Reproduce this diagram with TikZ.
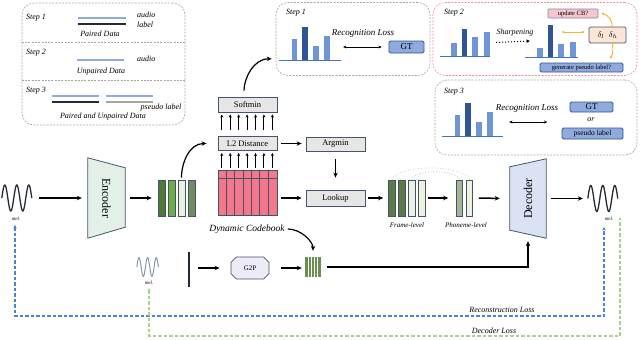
\documentclass[tikz,border=0pt]{standalone}
\usepackage{fontspec}
\setmainfont{Liberation Serif}
\usepackage{tikz}
\usetikzlibrary{arrows.meta,positioning,calc,shapes.misc}
\definecolor{edge}{HTML}{44546A}
\definecolor{boxgrey}{HTML}{E7E6E6}
\definecolor{cbpink}{HTML}{F5788A}
\definecolor{barmid}{HTML}{6F95D9}
\definecolor{bardark}{HTML}{2F5597}
\definecolor{axisblue}{HTML}{4472C4}
\definecolor{audioblue}{HTML}{8FAADC}
\definecolor{labelnavy}{HTML}{222A35}
\definecolor{gtblue}{HTML}{8FAADC}
\definecolor{encmint}{HTML}{E2F0E8}
\definecolor{decblue}{HTML}{DAE3F3}
\definecolor{gdark}{HTML}{4E7A34}
\definecolor{gmid}{HTML}{70AD47}
\definecolor{glight}{HTML}{E9F1E1}
\definecolor{ggrey}{HTML}{6E8C5C}
\definecolor{fdark}{HTML}{5B7B46}
\definecolor{flight}{HTML}{EBF2DE}
\definecolor{pgrey}{HTML}{A5B596}
\definecolor{pgreen}{HTML}{6B8E4E}
\definecolor{recblue}{HTML}{4F7FD6}
\definecolor{decgreen}{HTML}{A9D18E}
\definecolor{pinkline}{HTML}{F08C98}
\definecolor{orng}{HTML}{F4B42C}
\definecolor{peach}{HTML}{FBE5D6}
\definecolor{updpink}{HTML}{F7C6CE}
\definecolor{lavender}{HTML}{EDEBF6}
\definecolor{melgrey}{HTML}{8497B0}
\newcommand{\melwave}[3]{\draw[#3,shift={(#1)},scale=#2] plot[domain=0:30,samples=90,smooth] (\x,{-13*sin(\x*30)});}

\begin{document}
\begin{tikzpicture}[x=1pt,y=-1pt,
  box/.style={draw=edge,line width=0.8pt,fill=boxgrey,minimum width=59pt,inner sep=0pt,font=\fontsize{8.5}{9}\selectfont},
  gtbox/.style={draw=bardark,line width=0.8pt,fill=gtblue,rounded corners=1.5pt,inner sep=0pt},
  lab/.style={font=\fontsize{8}{9}\selectfont\itshape,inner sep=1pt},
  tiny/.style={font=\fontsize{5}{5}\selectfont\itshape,inner sep=0pt},
  frame/.style={draw=gray!70,dash pattern=on 2pt off 1.3pt,line width=0.6pt,rounded corners=12pt,inner sep=0pt},
  bar/.style={draw=edge,line width=0.6pt,minimum width=7pt,minimum height=36pt,inner sep=0pt},
  spot/.style={inner sep=0pt},
  loss/.style={line width=1.2pt,dash pattern=on 3.5pt off 2pt,<->,>={Stealth[length=3.5pt,width=3.5pt]}},
  >={Stealth[length=5pt,width=4.5pt]},
  flow/.style={->,line width=1.5pt},
  tick/.style={->,line width=1pt,>={Stealth[length=3.2pt,width=3pt]}}]
  \useasboundingbox (0,0) rectangle (640,340);

  % training data per step
  \node[frame,minimum width=163pt,minimum height=122pt] (data) at (103.5,64) {};
  \draw[frame,rounded corners=0pt] ($(data.north west)+(0,40)$) -- ($(data.north east)+(0,40)$)
    ($(data.north west)+(0,78)$) -- ($(data.north east)+(0,78)$);
  \node[lab,anchor=west] (st1) at (25,18) {Step 1};
  \node[lab,anchor=west] (st2) at (25,53) {Step 2};
  \node[lab,anchor=west] (st3) at (25,91) {Step 3};
  \draw[audioblue,line width=2.5pt] (78,18) -- (126,18);
  \draw[labelnavy,line width=2.5pt] (78,24) -- (126,24);
  \node[lab,anchor=west] (au1) at (136,15) {audio};
  \node[lab,anchor=west] (lb1) at (136,25) {label};
  \node[lab] (pd) at (100,34) {Paired Data};
  \draw[audioblue,line width=2.5pt] (77,60) -- (124,60);
  \node[lab,anchor=west] (au2) at (136,59) {audio};
  \node[lab] (ud) at (101,72) {Unpaired Data};
  \draw[audioblue,line width=2.5pt] (52,96) -- (99,96) (106,96) -- (153,96);
  \draw[labelnavy,line width=2.5pt] (52,102) -- (99,102);
  \draw[gray!70,line width=2.5pt] (106,102) -- (153,102);
  \node[lab] (psl) at (161,108) {pseudo label};
  \node[lab] (pud) at (103,117) {Paired and Unpaired Data};

  % step 1 panel
  \node[frame,minimum width=154pt,minimum height=73pt] (s1) at (353,39) {};
  \node[lab,anchor=west] (s1t) at (285,13) {Step 1};
  \node[spot,minimum width=62pt,minimum height=33pt] (c1) at (310,43.5) {};
  \foreach \x/\t/\c in {294.5/39/barmid,305/27/bardark,316/46/barmid,327/36/barmid}
    \fill[\c] (\x-2.8,\t) rectangle (\x+2.8,60);
  \draw[axisblue,line width=1pt] (c1.south west) -- (c1.south east);
  \node[gtbox,minimum width=35pt,minimum height=12pt,font=\fontsize{9}{9}\selectfont] (gt1) at (406.5,47) {GT};
  \node[lab,font=\fontsize{9}{9}\selectfont\itshape] (rl1) at (363,33) {Recognition Loss};
  \draw[tick,<->,shorten <=2pt,shorten >=7pt] (c1.east |- gt1.west) -- (gt1.west);

  % step 2 panel
  \node[frame,draw=pinkline,minimum width=204pt,minimum height=73pt] (s2) at (535,39) {};
  \node[lab,anchor=west] (s2t) at (443,13) {Step 2};
  \node[spot,minimum width=50pt,minimum height=27pt] (c2a) at (465,42.5) {};
  \foreach \x/\t/\c in {454/43/barmid,464.5/29/bardark,475/37/barmid,487/32/barmid}
    \fill[\c] (\x-2.8,\t) rectangle (\x+2.8,56);
  \draw[axisblue,line width=1pt] (c2a.south west) -- (c2a.south east);
  \node[spot,minimum width=53pt,minimum height=32pt] (c2b) at (551.5,41) {};
  \foreach \x/\t/\c in {540/48/barmid,550.5/25/bardark,561/44/barmid,573/42/barmid}
    \fill[\c] (\x-2.8,\t) rectangle (\x+2.8,57);
  \draw[axisblue,line width=1pt] (c2b.south west) -- (c2b.south east);
  \node[lab] (sh) at (515,33) {Sharpening};
  \draw[line width=1pt,dotted,->,>={Stealth[length=3.5pt,width=3.5pt]}] ($(c2a.east)+(6,0)$) -- ($(c2b.west)+(5,0)$);
  \node[draw=edge,line width=0.7pt,fill=peach,rounded corners=1.5pt,minimum width=37pt,minimum height=16pt,inner sep=0pt,font=\fontsize{8}{8}\selectfont] (dl) at (607.5,35) {$\delta_l$\;\;$\delta_h$};
  \node[draw=edge!70,line width=0.6pt,fill=updpink,rounded corners=1pt,minimum width=50pt,minimum height=9pt,inner sep=0pt,font=\fontsize{6.5}{6.5}\selectfont] (upd) at (573,13.5) {update CB?};
  \node[gtbox,minimum width=83pt,minimum height=9pt,font=\fontsize{6.5}{6.5}\selectfont] (gen) at (581.5,67.5) {generate pseudo label?};
  \draw[orng,line width=0.9pt,<->,>={Stealth[length=3pt,width=3pt]}] ($(dl.west)+(-27,-3)$) -- ($(dl.west)+(-4,-3)$);
  \draw[orng,line width=0.9pt,->,>={Stealth[length=3pt,width=3pt]}] ([xshift=5pt,yshift=-1pt]dl.north) to[out=90,in=-10] ([xshift=3pt]upd.east);
  \draw[orng,line width=0.9pt,->,>={Stealth[length=3pt,width=3pt]}] ([xshift=5pt,yshift=1pt]dl.south) to[out=-90,in=45] ([xshift=-14pt,yshift=4pt]gen.north east);

  % step 3 panel
  \node[frame,minimum width=202pt,minimum height=75pt] (s3) at (536,117.5) {};
  \node[lab,anchor=west] (s3t) at (443,92) {Step 3};
  \node[spot,minimum width=61pt,minimum height=33pt] (c3) at (472.5,119.5) {};
  \foreach \x/\t/\c in {457.5/115/barmid,468/103/bardark,479/122/barmid,490/112/barmid}
    \fill[\c] (\x-2.8,\t) rectangle (\x+2.8,136);
  \draw[axisblue,line width=1pt] (c3.south west) -- (c3.south east);
  \node[lab,font=\fontsize{9}{9}\selectfont\itshape] (rl3) at (527,108) {Recognition Loss};
  \draw[tick,<->] ($(c3.east)+(6,2.5)$) -- ++(38,0);
  \node[gtbox,minimum width=43pt,minimum height=10pt,font=\fontsize{9}{9}\selectfont] (gt3) at (591.5,107) {GT};
  \node[lab] (or) at (591,119.5) {or};
  \node[gtbox,minimum width=61pt,minimum height=11pt,font=\fontsize{7.5}{7.5}\selectfont] (ps3) at (592.5,133.5) {pseudo label};

  % encoder side
  \node[spot,minimum width=32pt,minimum height=28pt] (melin) at (18,198) {};
  \melwave{melin.west}{1}{labelnavy,line width=1.3pt}
  \node[tiny] (ml1) at (16,219) {mel.};
  \node[spot,minimum width=37pt,minimum height=80pt] (enc) at (106.5,198) {};
  \draw[draw=edge,fill=encmint,line width=0.8pt] (enc.north west) -- ([yshift=-10pt]enc.north east)
    -- ([yshift=11pt]enc.south east) -- (enc.south west) -- cycle;
  \node[rotate=-90,font=\fontsize{12}{12}\selectfont] (enct) at (enc) {Encoder};
  \foreach \i/\x/\c in {1/161.5/gdark,2/171.5/gmid,3/181.5/glight,4/191.5/ggrey}
    \node[bar,fill=\c] (eb\i) at (\x,198) {};
  \draw[flow,shorten <=5pt,shorten >=6pt] (melin.east) -- (enc.west);
  \draw[flow,shorten <=5pt,shorten >=6pt] (enc.east) -- (eb1.west);

  % codebook
  \node[box,minimum height=15pt] (smin) at (247.5,104.5) {Softmin};
  \node[box,minimum height=14pt] (l2) at (247.5,143.5) {L2 Distance};
  \node[box,minimum height=14pt] (amin) at (335.5,144) {Argmin};
  \node[box,minimum height=16pt] (look) at (335.5,198) {Lookup};
  \node[draw=edge,line width=0.8pt,fill=cbpink,minimum width=59pt,minimum height=45pt,inner sep=0pt] (cb) at (247.5,192.5) {};
  \foreach \k in {1,...,6}
    \draw[edge,line width=0.6pt] ($(cb.north west)+(\k*59/7,0)$) -- ($(cb.south west)+(\k*59/7,0)$);
  \draw[edge,line width=0.8pt] ($(cb.north west)+(0,9)$) -- ($(cb.north east)+(0,9)$);
  \foreach \k in {0,...,6} {
    \draw[tick] ($(cb.north west)+(4.2+\k*8.43,-2)$) -- ($(l2.south west)+(4.2+\k*8.43,2)$);
    \draw[tick] ($(l2.north west)+(4.2+\k*8.43,-6)$) -- ($(smin.south west)+(4.2+\k*8.43,2)$);
  }
  \node[lab,font=\fontsize{9.5}{10}\selectfont\itshape] (dcb) at (247,229) {Dynamic Codebook};
  \draw[flow,line width=1.2pt,shorten <=2pt] (eb3.north) to[out=90,in=180] ([xshift=-11pt]l2.west);
  \draw[flow,line width=1.2pt,shorten <=6pt] ([xshift=-3.5pt]smin.north) to[out=90,in=180] ($(s1.south west)+(-4,-17)$);
  \draw[flow,shorten <=4pt,shorten >=4pt] (l2.east) -- (l2.east -| amin.west);
  \draw[flow,shorten <=8pt,shorten >=12pt] (amin.south) -- (look.north);
  \draw[flow,shorten <=4pt,shorten >=4pt] (cb.east |- look.west) -- (look.west);

  % frame and phoneme level
  \foreach \i/\x/\c in {1/392/fdark,2/401.5/fdark,3/411.5/flight,4/421.5/flight}
    \node[bar,fill=\c] (fb\i) at (\x,198) {};
  \node[bar,fill=pgrey,minimum width=6pt] (pl1) at (459.5,198) {};
  \node[bar,fill=flight,minimum width=6pt] (pl2) at (469.5,198) {};
  \draw[gray!55,dotted,line width=0.7pt] (fb1.north) to[out=70,in=110,looseness=0.55] (pl2.north)
    (fb3.north) to[out=70,in=110,looseness=0.6] (pl1.north)
    (fb1.north) -- (fb2.north) (fb3.north) -- (fb4.north);
  \node[lab,font=\fontsize{7}{7}\selectfont\itshape] (frl) at (407,225) {Frame-level};
  \node[lab,font=\fontsize{7}{7}\selectfont\itshape] (phl) at (466,225) {Phoneme-level};
  \draw[flow,shorten <=3pt,shorten >=5pt] (look.east) -- (fb1.west);
  \draw[flow,shorten <=3pt,shorten >=8pt] (fb4.east) -- (pl1.west);

  % decoder side
  \node[spot,minimum width=36pt,minimum height=79pt] (dec) at (528,198.5) {};
  \draw[draw=edge,fill=decblue,line width=0.8pt] ([yshift=-8pt]dec.north west) -- (dec.north east)
    -- (dec.south east) -- ([yshift=8pt]dec.south west) -- cycle;
  \node[rotate=90,font=\fontsize{12}{12}\selectfont] (dect) at (dec) {Decoder};
  \node[spot,minimum width=32pt,minimum height=28pt] (melout) at (604,198.5) {};
  \melwave{melout.west}{1}{labelnavy,line width=1.3pt}
  \node[tiny] (ml2) at (609,219) {mel.};
  \draw[flow,shorten <=6pt,shorten >=10pt] (pl2.east) -- (dec.west);
  \draw[flow,shorten <=5pt,shorten >=5pt] (dec.east) -- (melout.west);

  % text branch
  \node[spot,minimum width=22pt,minimum height=20pt] (melg) at (148,267) {};
  \melwave{melg.west}{0.72}{melgrey,line width=1pt}
  \node[tiny] (mlg) at (149,283) {mel.};
  \node[fill=labelnavy,minimum width=2.5pt,minimum height=35pt,inner sep=0pt] (txt) at (189,269.5) {};
  \node[chamfered rectangle,chamfered rectangle xsep=3pt,chamfered rectangle ysep=3pt,draw=edge,line width=0.8pt,fill=lavender,minimum width=38pt,minimum height=22pt,inner sep=0pt,font=\fontsize{7}{7}\selectfont] (g2p) at (250,268) {G2P};
  \node[fill=pgreen,minimum width=16pt,minimum height=20pt,inner sep=0pt] (pb) at (313,267) {};
  \foreach \k in {1,...,4}
    \draw[white,line width=0.6pt] ($(pb.north west)+(\k*3.2,0)$) -- ($(pb.south west)+(\k*3.2,0)$);
  \draw[flow,shorten <=8pt,shorten >=11pt] (txt.east |- g2p.west) -- (g2p.west);
  \draw[flow,shorten <=12pt,shorten >=3pt] (g2p.east) -- (g2p.east -| pb.west);
  \draw[flow,line width=1.2pt,shorten <=6pt,shorten >=3pt] (pb.east) -| (dec.south);
  \draw[flow,line width=1.2pt,shorten <=2pt,shorten >=6pt] (dcb.east) to[out=0,in=90] (pb.north);

  % losses
  \draw[loss,recblue]
    ([xshift=-1pt,yshift=-4pt]ml1.south) |- ($(ml2.south)+(-5,95)$) -- ([xshift=-5pt,yshift=-6pt]ml2.south);
  \node[lab] (recl) at (502,310) {Reconstruction Loss};
  \draw[loss,decgreen]
    ([yshift=-3pt]mlg.south) |- ($(ml2.south)+(11,115)$) -- ([xshift=11pt]ml2.north);
  \node[lab] (decl) at (494,331) {Decoder Loss};
\end{tikzpicture}
\end{document}
